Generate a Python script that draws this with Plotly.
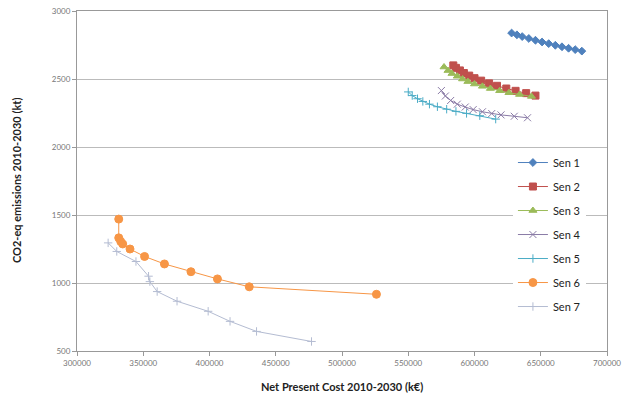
import plotly.graph_objects as go

# ---- data ----
sen1_x = [628000, 632000, 636000, 641000, 646000, 651000, 656000, 661000, 666000, 671000, 676000, 681000]
sen1_y = [2838, 2825, 2812, 2798, 2785, 2772, 2760, 2748, 2737, 2726, 2716, 2705]

sen2_x = [584000, 586000, 589000, 592000, 596000, 600000, 605000, 611000, 617000, 624000, 631000, 639000, 646000]
sen2_y = [2600, 2582, 2563, 2544, 2525, 2506, 2488, 2468, 2450, 2430, 2413, 2396, 2378]

sen3_x = [577000, 580000, 583000, 587000, 591000, 595000, 600000, 606000, 612000, 619000, 626000, 634000, 643000]
sen3_y = [2588, 2562, 2540, 2520, 2500, 2481, 2463, 2446, 2430, 2414, 2399, 2386, 2372]

sen4_x = [575000, 578000, 582000, 587000, 593000, 599000, 606000, 613000, 620000, 630000, 640000]
sen4_y = [2415, 2375, 2342, 2315, 2294, 2275, 2259, 2246, 2236, 2226, 2215]

sen5_x = [550000, 553000, 557000, 561000, 566000, 572000, 579000, 586000, 594000, 604000, 616000]
sen5_y = [2405, 2378, 2355, 2335, 2315, 2296, 2278, 2262, 2247, 2230, 2205]

sen6_x = [331500, 331500, 333000, 334500, 340000, 351000, 366000, 386000, 406000, 430000, 526000]
sen6_y = [1470, 1332, 1305, 1287, 1250, 1195, 1140, 1083, 1030, 972, 917]

sen7_x = [323500, 330000, 344500, 354000, 355000, 360500, 375500, 399000, 415500, 435500, 477000]
sen7_y = [1295, 1232, 1158, 1050, 1010, 937, 866, 792, 718, 644, 570]

names = ["Sen 1", "Sen 2", "Sen 3", "Sen 4", "Sen 5", "Sen 6", "Sen 7"]
x_title = "Net Present Cost 2010-2030 (k€)"
y_title = "CO2-eq emissions 2010-2030 (kt)"

xs = [sen1_x, sen2_x, sen3_x, sen4_x, sen5_x, sen6_x, sen7_x]
ys = [sen1_y, sen2_y, sen3_y, sen4_y, sen5_y, sen6_y, sen7_y]
colors = ["#4F81BD", "#C0504D", "#9BBB59", "#8A7BA6", "#4BACC6", "#F79646", "#B4BCD2"]
symbols = ["diamond", "square", "triangle-up", "x-thin-open", "cross-thin-open", "circle", "cross-thin-open"]
sizes = [6, 7, 7, 7, 6, 8, 6]

fig = go.Figure()
for i in range(7):
    fig.add_trace(go.Scatter(
        x=xs[i], y=ys[i], name=names[i], mode="lines+markers",
        legendgroup=names[i],
        line=dict(color=colors[i], width=1),
        marker=dict(symbol=symbols[i], size=sizes[i], color=colors[i],
                    line=dict(color=colors[i], width=1)),
    ))

fig.add_annotation(text="<b>" + x_title + "</b>", xref="paper", yref="paper",
                   x=0.5, y=-0.104, yanchor="middle", showarrow=False,
                   font=dict(size=11, color="#222"))
fig.add_annotation(text="<b>" + y_title + "</b>", xref="paper", yref="paper",
                   x=-0.115, y=0.5, xanchor="center", yanchor="middle",
                   textangle=-90, showarrow=False,
                   font=dict(size=11, color="#222"))

fig.update_layout(
    width=624, height=398,
    margin=dict(l=77, r=17, t=11, b=47, autoexpand=False),
    paper_bgcolor="white", plot_bgcolor="white",
    font=dict(family="Lato, Liberation Sans, sans-serif", color="#222"),
    showlegend=True,
    legend=dict(x=0.8225, y=0.597, xanchor="left", yanchor="top",
                bgcolor="white", font=dict(size=11, color="#222"),
                tracegroupgap=5, itemwidth=30),
    xaxis=dict(range=[300000, 700000], dtick=50000, tickformat="d",
               showgrid=False, zeroline=False, automargin=False,
               ticklabeloverflow="allow",
               showline=True, linecolor="#999", linewidth=1, mirror=True,
               ticks="outside", tickcolor="#999", ticklen=4,
               tickfont=dict(size=8, color="#777")),
    yaxis=dict(range=[500, 3000], dtick=500, tickformat="d",
               showgrid=True, gridcolor="#BBBBBB", gridwidth=1, zeroline=False,
               automargin=False, ticklabeloverflow="allow",
               showline=True, linecolor="#999", linewidth=1, mirror=True,
               ticks="outside", tickcolor="#999", ticklen=4,
               tickfont=dict(size=8, color="#777")),
)

fig.write_html("out.html",
               config={"displayModeBar": False},
               post_script="document.body.style.margin='0';document.body.style.overflow='hidden';")
